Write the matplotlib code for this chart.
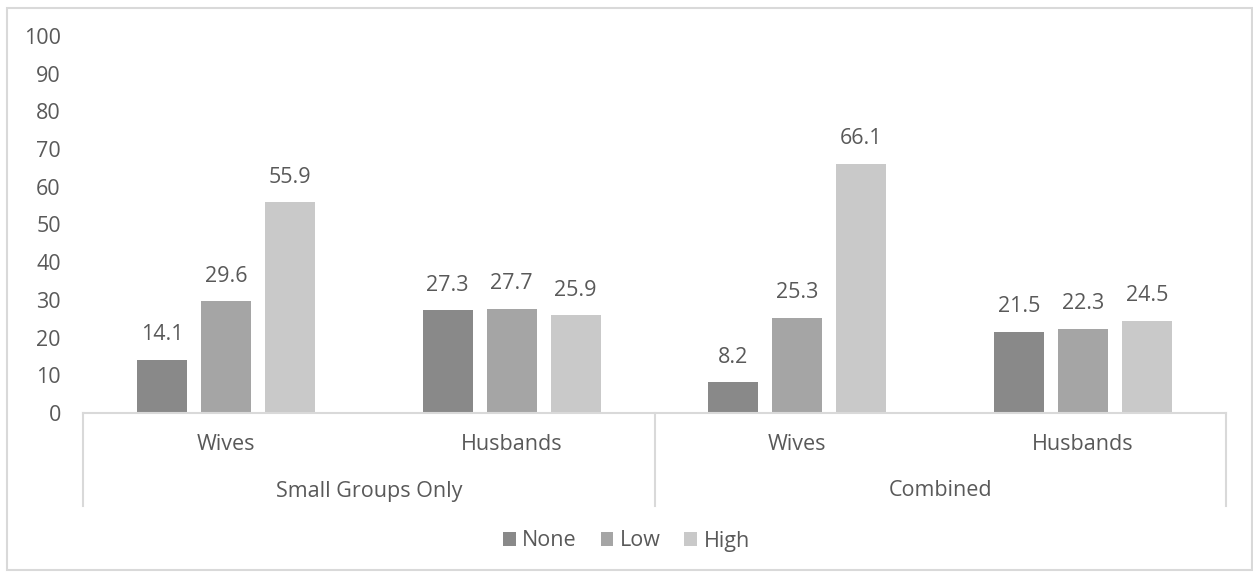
import matplotlib.pyplot as plt
from matplotlib.patches import Rectangle

groups = ["Small Groups Only", "Combined"]
subgroups = ["Wives", "Husbands", "Wives", "Husbands"]
levels = ["None", "Low", "High"]
none_vals = [14.1, 27.3, 8.2, 21.5]
low_vals = [29.6, 27.7, 25.3, 22.3]
high_vals = [55.9, 25.9, 66.1, 24.5]
colors = ["#898989", "#a5a5a5", "#c9c9c9"]

text_color = "#595959"
line_color = "#d9d9d9"
fs = 15.5
plt.rcParams["font.family"] = ["Open Sans", "DejaVu Sans"]

fig = plt.figure(figsize=(12.53, 5.76), dpi=100)
ax = fig.add_axes([83 / 1253, 1 - 413 / 576, (1226 - 83) / 1253, (413 - 36) / 576])

series = [none_vals, low_vals, high_vals]
width = 0.175
step = 0.224
x = list(range(len(subgroups)))
for i, (name, vals) in enumerate(zip(levels, series)):
    pos = [xi + (i - 1) * step for xi in x]
    bars = ax.bar(pos, vals, width, color=colors[i], label=name, zorder=2)
    for b, v in zip(bars, vals):
        ax.annotate(f"{v:.1f}", (b.get_x() + b.get_width() / 2, v),
                    xytext=(0, 18), textcoords="offset points",
                    ha="center", va="center", fontsize=fs, color=text_color)

ax.set_xlim(-0.5, 3.5)
ax.set_ylim(0, 100)
ax.set_yticks(range(0, 101, 10))
ax.tick_params(axis="y", length=0, pad=16, labelsize=fs, labelcolor=text_color)
ax.set_xticks([])
for s in ["top", "right", "left"]:
    ax.spines[s].set_visible(False)
ax.spines["bottom"].set_color(line_color)
ax.spines["bottom"].set_linewidth(1.5)

# multi-level category axis
trans = ax.get_xaxis_transform()
line_bottom = -(506 - 413) / 377
for xv in [-0.5, 1.5, 3.5]:
    ax.plot([xv, xv], [0, line_bottom], transform=trans, color=line_color,
            lw=1.5, clip_on=False)
for xi, lab in zip(x, subgroups):
    ax.text(xi, -(444 - 413) / 377, lab, transform=trans, ha="center",
            va="center", fontsize=fs, color=text_color)
for gi, lab in enumerate(groups):
    ax.text(gi * 2 + 0.5, -(491 - 413) / 377, lab, transform=trans,
            ha="center", va="center", fontsize=fs, color=text_color)

leg = fig.legend(loc="center", bbox_to_anchor=(0.5, 1 - 541 / 576), ncol=3,
                 frameon=False, fontsize=fs, handlelength=0.6,
                 handleheight=0.6, handletextpad=0.3, columnspacing=1.1)
for t in leg.get_texts():
    t.set_color(text_color)

fig.patches.append(Rectangle((7 / 1253, 1 - 570 / 576), (1252 - 7) / 1253,
                             (570 - 8) / 576, transform=fig.transFigure,
                             fill=False, edgecolor=line_color, lw=1.5))

fig.savefig("out.png", dpi=100)
